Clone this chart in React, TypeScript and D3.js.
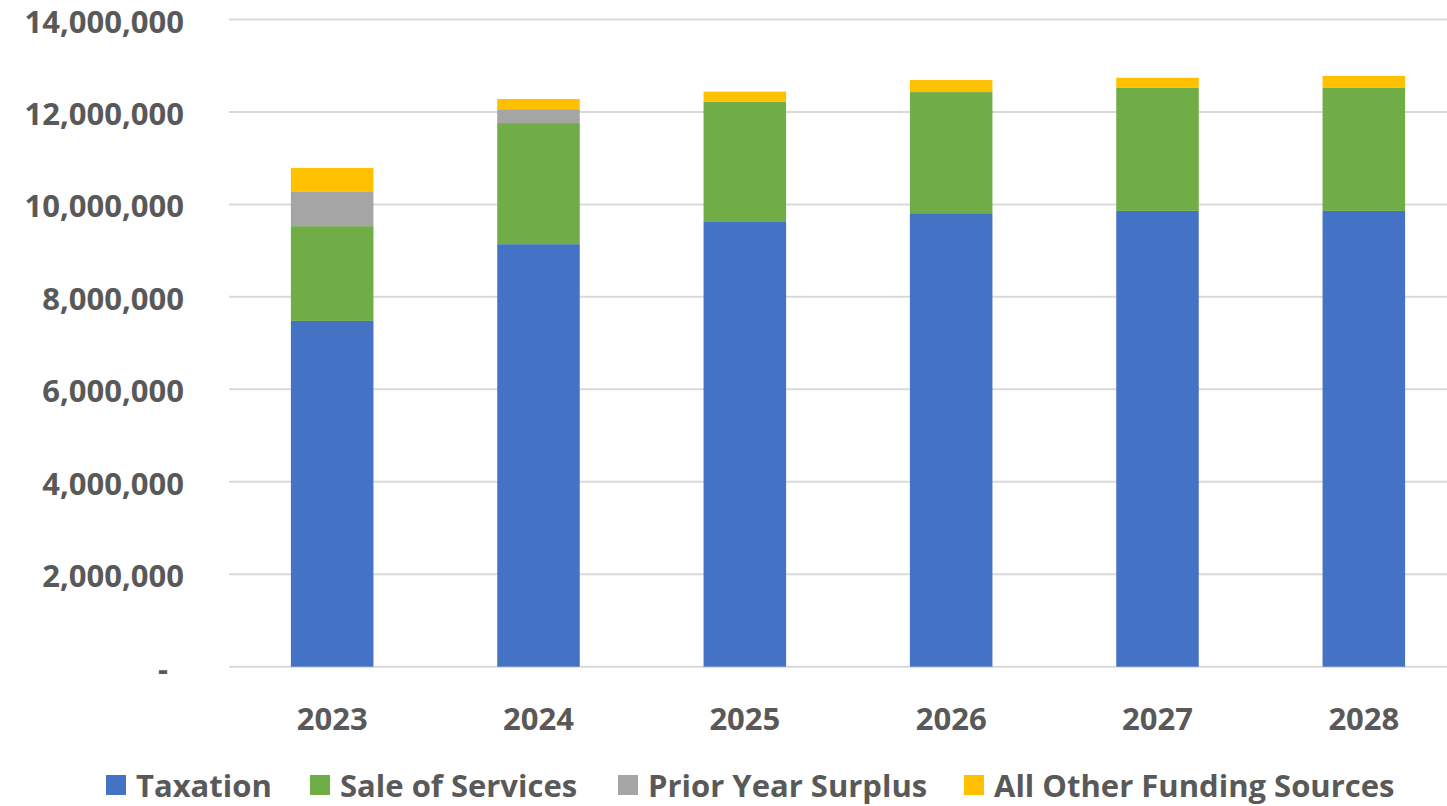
import React from "react";
import * as d3 from "d3";

const years = ["2023", "2024", "2025", "2026", "2027", "2028"];
const taxation = [7480000, 9140000, 9620000, 9810000, 9860000, 9860000];
const saleOfServices = [2050000, 2620000, 2600000, 2620000, 2660000, 2660000];
const priorYearSurplus = [740000, 300000, 0, 0, 0, 0];
const allOtherFunding = [520000, 220000, 220000, 260000, 220000, 260000];

const seriesNames = ["Taxation", "Sale of Services", "Prior Year Surplus", "All Other Funding Sources"];
const seriesColors = ["#4472C4", "#70AD47", "#A5A5A5", "#FFC000"];
const yTicks = [0, 2000000, 4000000, 6000000, 8000000, 10000000, 12000000, 14000000];

const W = 1447;
const H = 806;
const FONT = "'Open Sans', 'DejaVu Sans', sans-serif";
const TEXT = "#595959";

type Row = { year: string; [key: string]: string | number };

export default function App() {
    const rows: Row[] = years.map((y, i) => ({
        year: y,
        [seriesNames[0]]: taxation[i],
        [seriesNames[1]]: saleOfServices[i],
        [seriesNames[2]]: priorYearSurplus[i],
        [seriesNames[3]]: allOtherFunding[i],
    }));

    const stack = d3.stack<Row, string>().keys(seriesNames).value((d, k) => d[k] as number);
    const series = stack(rows);

    const x = d3.scaleBand<string>().domain(years).range([229, 1467]).paddingInner(0.6).paddingOuter(0.3);
    const y = d3.scaleLinear().domain([0, 14000000]).range([666.7, 19.5]);
    const fmt = d3.format(",");

    // legend item left edges, as laid out in the source chart
    const legendX = [106, 310, 618, 964];

    return (
        <svg width={W} height={H} style={{ position: "absolute", left: 0, top: 0, background: "#fff" }}>
            <g>
                {yTicks.map((t) => (
                    <line key={t} x1={229} x2={1467} y1={y(t)} y2={y(t)} stroke="#D9D9D9" strokeWidth={2} />
                ))}
            </g>
            <g>
                {series.map((s, si) => (
                    <g key={s.key} fill={seriesColors[si]}>
                        {s.map((d, i) => (
                            <rect
                                key={i}
                                x={x(years[i]) ?? 0}
                                width={x.bandwidth()}
                                y={y(d[1])}
                                height={Math.max(0, y(d[0]) - y(d[1]))}
                            />
                        ))}
                    </g>
                ))}
            </g>
            <g fontFamily={FONT} fontWeight={700} fontSize={31} fill={TEXT}>
                {yTicks.map((t) => (
                    <text key={t} x={t === 0 ? 168 : 184} y={y(t)} dy="0.42em" textAnchor="end">
                        {t === 0 ? "-" : fmt(t)}
                    </text>
                ))}
                {years.map((yr) => (
                    <text key={yr} x={(x(yr) ?? 0) + x.bandwidth() / 2} y={730} textAnchor="middle">
                        {yr}
                    </text>
                ))}
                {seriesNames.map((n, i) => (
                    <g key={n} transform={`translate(${legendX[i]},775)`}>
                        <rect width={20} height={20} fill={seriesColors[i]} />
                        <text x={30} y={22}>{n}</text>
                    </g>
                ))}
            </g>
        </svg>
    );
}
